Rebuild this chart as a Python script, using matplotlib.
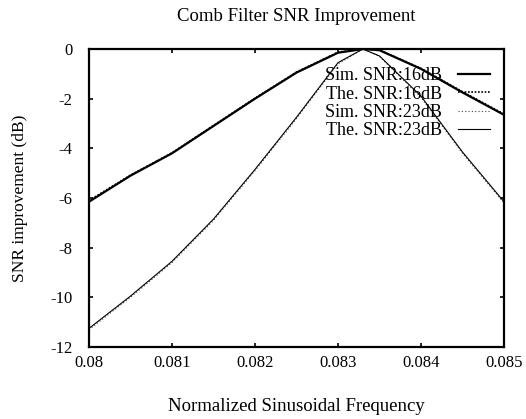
import matplotlib
matplotlib.use("Agg")
import matplotlib.pyplot as plt

plt.rcParams['font.family'] = ['Liberation Serif', 'DejaVu Serif']
plt.rcParams['axes.unicode_minus'] = False

freq = [0.0800, 0.0805, 0.0810, 0.0815, 0.0820, 0.0825, 0.0830, 0.0833, 0.0835, 0.0840, 0.0845, 0.0850]
sim16 = [-6.15, -5.1, -4.2, -3.1, -2.0, -0.95, -0.15, 0.0, -0.05, -0.8, -1.75, -2.65]
the16 = [-6.1, -5.08, -4.18, -3.08, -1.98, -0.93, -0.13, 0.0, -0.04, -0.78, -1.72, -2.62]
sim23 = [-11.3, -10.0, -8.6, -6.9, -4.9, -2.8, -0.6, 0.0, -0.3, -1.95, -4.2, -6.2]
the23 = [-11.25, -9.95, -8.55, -6.85, -4.85, -2.75, -0.55, 0.0, -0.28, -1.9, -4.15, -6.15]

xticks = [0.080, 0.081, 0.082, 0.083, 0.084, 0.085]
xticklabels = ['0.08', '0.081', '0.082', '0.083', '0.084', '0.085']
yticks = [0, -2, -4, -6, -8, -10, -12]

fig = plt.figure(figsize=(5.26, 4.19), dpi=100)
ax = fig.add_axes([89/526, 1-347/419, (504-89)/526, (347-49)/419])

ax.plot(freq, sim16, color='black', lw=1.6, ls='-', label='Sim. SNR:16dB')
ax.plot(freq, the16, color='black', lw=1.2, ls=(0, (1, 1)), label='The. SNR:16dB')
ax.plot(freq, sim23, color='#444444', lw=0.8, ls=(0, (1, 2)), label='Sim. SNR:23dB')
ax.plot(freq, the23, color='black', lw=0.8, ls='-', label='The. SNR:23dB')

ax.set_xlim(0.080, 0.085)
ax.set_ylim(-12, 0)
ax.set_xticks(xticks)
ax.set_xticklabels(xticklabels)
ax.set_yticks(yticks)
ax.tick_params(direction='in', top=True, right=True, length=3, width=1.2,
               labelsize=12)
ax.tick_params(axis='x', pad=6)
ax.tick_params(axis='y', pad=12)
for s in ax.spines.values():
    s.set_linewidth(1.6)

ax.set_title('Comb Filter SNR Improvement', fontsize=13.5, pad=20)
ax.set_xlabel('Normalized Sinusoidal Frequency', fontsize=13.5, labelpad=19)
ax.set_ylabel('SNR improvement (dB)', fontsize=12.5, labelpad=16)

leg = ax.legend(loc='upper right', bbox_to_anchor=(0.966, 0.938), frameon=False,
                markerfirst=False, fontsize=13, handlelength=1.75,
                labelspacing=0.07, handletextpad=0.9, borderpad=0.0,
                borderaxespad=0.0)

fig.savefig('out.png', dpi=100)
